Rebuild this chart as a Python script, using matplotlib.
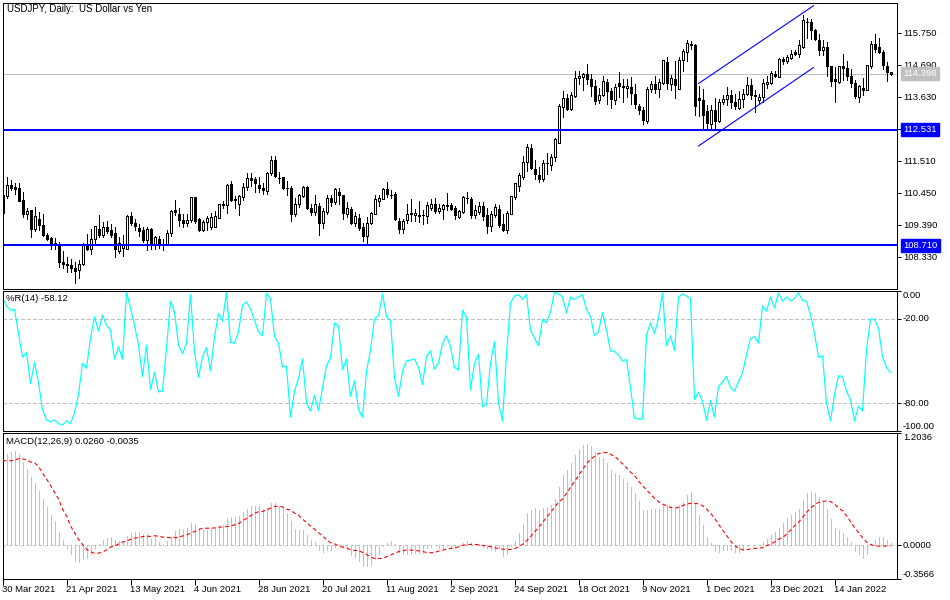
import matplotlib
matplotlib.use("Agg")
import matplotlib.pyplot as plt
from matplotlib.transforms import blended_transform_factory
import numpy as np

opens = [110.37,110.35,110.72,110.63,110.60,110.20,109.75,109.87,109.25,109.59,
109.38,109.06,108.94,108.80,108.71,108.15,108.10,108.07,107.97,107.89,
108.08,108.71,108.59,108.92,109.26,109.04,109.33,109.20,109.10,108.52,
108.62,108.58,109.67,109.46,109.27,109.20,108.89,109.25,108.72,108.91,
108.71,108.73,109.13,109.87,109.76,109.56,109.44,109.55,110.30,109.58,
109.22,109.48,109.31,109.32,109.63,110.05,110.05,110.73,110.23,110.09,
110.31,110.64,110.95,110.89,110.72,110.62,110.51,111.12,111.53,110.95,
110.96,110.62,110.62,109.75,110.09,110.35,110.63,109.94,109.81,110.02,
109.45,109.81,110.29,110.15,110.47,110.37,109.75,109.92,109.45,109.63,
109.32,109.02,109.45,109.75,110.18,110.25,110.57,110.38,110.41,109.53,
109.24,109.54,109.76,109.72,109.70,109.71,109.68,109.94,110.09,109.85,
109.92,110.04,110.04,109.94,109.65,109.82,110.27,110.24,109.71,109.81,
110.00,109.72,109.35,109.71,109.91,109.41,109.21,109.75,110.31,110.67,
110.97,111.48,111.95,111.25,111.05,110.89,111.42,111.37,111.62,112.11,
113.29,113.58,113.22,113.65,114.25,114.30,114.38,114.23,114.00,113.54,
113.68,114.12,113.83,113.54,114.10,114.00,113.93,113.97,113.73,113.34,
113.20,112.83,113.90,114.07,113.89,114.09,114.80,114.07,114.23,113.90,
114.84,115.13,115.36,115.34,113.60,113.51,113.15,112.74,113.18,112.83,
113.46,113.57,113.68,113.45,113.27,113.56,113.71,114.03,113.68,113.54,
113.62,114.06,114.09,114.40,114.30,114.88,114.81,114.93,115.11,115.05,
115.28,116.12,116.11,115.83,115.52,115.17,115.27,114.64,114.22,114.12,
114.65,114.60,114.33,114.08,113.62,113.93,113.87,114.64,115.37,115.28,
115.12,114.66,114.44]
highs = [110.37,110.98,110.86,110.78,110.78,110.48,109.96,109.89,109.97,109.82,
109.76,109.10,108.99,108.94,108.83,108.52,108.31,108.24,108.15,108.21,
108.77,109.08,109.24,109.35,109.70,109.48,109.52,109.43,109.30,108.99,
109.05,109.70,109.80,109.59,109.41,109.30,109.32,109.29,109.01,109.01,
108.93,109.21,109.89,110.20,109.95,109.74,109.74,110.32,110.32,109.63,
109.56,109.67,109.77,109.84,110.09,110.18,110.73,110.84,110.34,110.37,
110.79,111.12,111.12,110.98,110.97,110.78,111.13,111.66,111.66,111.14,
110.97,110.84,110.69,110.28,110.42,110.67,110.67,110.09,110.37,110.11,
109.93,110.38,110.37,110.60,110.60,110.39,110.15,109.97,109.82,109.76,
109.45,109.65,109.82,110.37,110.37,110.60,110.80,110.53,110.46,109.60,
109.59,110.07,110.23,109.91,110.17,109.89,110.14,110.23,110.26,110.09,
110.09,110.43,110.11,110.00,109.89,110.35,110.48,110.30,110.05,110.15,
110.15,109.94,109.85,110.09,110.05,109.73,109.85,110.35,110.78,111.11,
111.66,112.05,112.07,111.53,111.29,111.53,111.77,111.75,112.27,113.40,
113.81,113.74,113.79,114.48,114.48,114.42,114.71,114.40,114.18,113.93,
114.31,114.23,113.92,114.07,114.44,114.23,114.21,114.28,114.07,113.40,
113.29,113.96,114.15,114.31,114.23,114.86,114.95,114.34,114.81,114.95,
115.21,115.52,115.48,115.39,113.98,113.90,113.35,113.35,113.59,113.57,
113.68,113.97,113.85,113.74,113.82,113.90,114.29,114.23,113.87,113.74,
114.23,114.31,114.49,114.49,114.93,114.95,115.00,115.19,115.19,115.50,
116.33,116.25,116.22,115.89,115.72,115.50,115.45,114.64,114.62,114.66,
115.06,114.81,114.55,114.18,114.01,114.26,114.70,115.48,115.70,115.59,
115.19,114.78,114.45]
lows = [109.78,110.28,110.55,110.41,110.17,109.64,109.59,108.99,109.19,109.23,
109.01,108.88,108.58,108.58,108.00,107.96,107.84,107.81,107.45,107.62,
108.05,108.55,108.42,108.77,108.99,109.00,109.12,108.99,108.32,108.45,
108.36,108.57,109.38,109.21,109.03,108.82,108.56,108.60,108.58,108.63,
108.55,108.71,109.02,109.70,109.35,109.32,109.35,109.48,109.46,109.19,
109.19,109.21,109.26,109.30,109.61,109.96,109.78,110.18,109.96,109.72,
110.20,110.55,110.67,110.48,110.48,110.41,110.40,111.03,110.97,110.78,
110.59,110.39,109.52,109.67,109.98,110.32,109.91,109.71,109.71,109.04,
109.29,109.76,110.02,110.09,110.07,109.59,109.65,109.40,109.35,109.22,
108.85,108.75,109.43,109.73,110.02,110.23,110.31,110.29,109.56,109.11,
109.11,109.46,109.52,109.50,109.49,109.42,109.45,109.88,109.77,109.77,
109.59,109.87,109.89,109.57,109.63,109.78,110.11,109.62,109.62,109.75,
109.54,109.11,109.19,109.66,109.31,109.18,109.11,109.74,110.24,110.51,
110.92,111.16,111.23,110.91,110.81,110.84,111.06,111.22,111.51,112.10,
112.96,113.19,113.19,113.63,114.05,113.85,114.05,113.65,113.38,113.44,
113.66,113.40,113.26,113.39,113.64,113.46,113.62,113.40,113.26,113.05,
112.72,112.76,113.79,113.76,113.62,114.07,113.90,113.87,113.59,113.89,
114.49,114.82,115.22,113.02,112.99,112.58,112.61,112.58,112.58,112.81,
113.38,113.35,113.27,113.24,113.24,113.29,113.69,113.57,113.13,113.38,
113.46,113.93,114.06,114.28,114.28,114.73,114.76,114.87,115.00,114.94,
115.25,115.59,115.56,115.52,115.03,115.00,114.33,113.99,113.46,114.10,
114.18,114.18,113.96,113.60,113.46,113.68,113.84,114.58,115.12,115.08,
114.56,114.15,114.34]
closes = [109.78,110.72,110.60,110.58,110.19,109.75,109.83,109.25,109.67,109.38,
109.05,108.92,108.73,108.71,108.15,108.09,108.06,107.96,107.85,108.10,
108.76,108.58,108.93,109.34,109.05,109.33,109.17,109.06,108.59,108.80,
108.71,109.69,109.44,109.34,109.17,108.88,109.24,108.72,108.97,108.74,
108.74,109.13,109.83,109.82,109.55,109.44,109.56,110.30,109.52,109.21,
109.49,109.63,109.64,109.69,110.09,110.08,110.72,110.20,110.22,110.33,
110.65,110.95,110.86,110.78,110.61,110.53,111.12,111.52,111.01,110.94,
110.61,110.61,109.76,110.09,110.36,110.63,109.94,109.81,110.09,109.45,
109.86,110.29,110.15,110.57,110.38,109.77,109.94,109.44,109.67,109.28,
109.02,109.46,109.77,110.23,110.26,110.57,110.40,110.37,109.57,109.24,
109.53,109.76,109.77,109.79,109.68,109.70,110.03,110.09,109.83,109.94,
110.03,110.00,109.92,109.71,109.86,110.30,110.28,109.72,109.89,110.00,
109.68,109.35,109.73,109.97,109.37,109.21,109.79,110.34,110.77,111.03,
111.48,111.98,111.26,111.06,110.91,111.45,111.44,111.63,112.22,113.31,
113.60,113.24,113.68,114.27,114.33,114.38,114.23,113.99,113.49,113.70,
114.14,113.83,113.56,113.97,113.98,113.96,114.00,113.76,113.38,113.20,
112.86,113.90,114.06,113.90,114.13,114.84,114.09,114.26,114.03,114.86,
115.14,115.40,115.39,113.33,113.54,113.02,112.77,113.20,112.83,113.47,
113.57,113.70,113.46,113.34,113.57,113.73,114.03,113.69,113.67,113.63,
114.09,114.11,114.41,114.32,114.89,114.81,114.95,115.06,115.06,115.34,
116.16,116.11,115.85,115.56,115.17,115.29,114.64,114.15,114.15,114.64,
114.58,114.33,114.09,113.67,113.98,113.86,114.67,115.37,115.20,115.12,
114.69,114.45,114.398]

wpr = [-5.2,-10.8,-13.9,-13.4,-30.4,-47.3,-44.0,-66.1,-51.1,-65.6,
-84.5,-92.0,-93.2,-91.8,-94.6,-95.5,-92.7,-94.6,-86.8,-73.9,
-51.5,-55.1,-33.9,-18.6,-28.7,-17.4,-24.5,-28.0,-48.7,-39.8,
-48.7,-0.9,-12.7,-24.5,-38.6,-61.0,-38.6,-70.4,-57.9,-72.0,
-71.5,-41.0,-7.3,-15.1,-38.6,-44.7,-37.4,-2.8,-43.3,-61.7,
-46.8,-40.5,-57.0,-32.7,-16.2,-21.6,-0.9,-36.7,-37.4,-29.2,
-10.4,-8.0,-13.2,-21.0,-29.2,-32.0,-1.9,-5.6,-32.7,-37.4,
-53.9,-53.9,-89.9,-71.5,-62.1,-48.5,-79.8,-85.6,-74.4,-85.2,
-69.2,-53.2,-48.0,-22.8,-25.0,-56.2,-48.5,-75.1,-64.0,-84.5,
-89.9,-57.4,-42.1,-19.8,-17.9,-2.1,-18.6,-21.0,-62.1,-75.1,
-57.4,-49.7,-49.4,-48.5,-54.4,-66.8,-46.8,-42.8,-55.8,-51.5,
-37.4,-32.0,-39.8,-54.6,-56.5,-13.9,-18.6,-70.4,-51.5,-45.2,
-82.6,-81.0,-51.5,-36.2,-79.8,-92.7,-45.2,-8.5,-3.8,-2.8,
-6.1,-2.8,-28.0,-33.9,-39.1,-20.5,-22.8,-15.1,-0.9,-2.4,
-4.5,-15.8,-4.5,-6.1,-4.5,-2.8,-13.2,-18.6,-32.0,-29.2,
-15.5,-28.0,-42.8,-43.3,-45.6,-49.9,-49.0,-69.2,
-90.4,-91.3,-91.3,-31.5,-22.8,-30.4,-19.8,-1.4,-39.1,-32.0,
-42.6,-4.5,-2.4,-3.8,-5.6,-77.4,-72.2,-78.6,-92.2,-78.1,
-89.9,-68.0,-65.0,-61.0,-68.7,-71.5,-64.5,-58.6,-45.6,-33.9,
-32.7,-37.4,-10.8,-14.6,-4.5,-12.2,-1.6,-7.5,-4.5,-7.3,
-5.6,-1.6,-6.8,-7.5,-17.0,-30.4,-47.3,-46.4,-79.8,-92.7,
-73.9,-60.5,-61.0,-71.5,-77.4,-92.7,-82.1,-85.6,-42.1,-20.2,
-20.2,-26.8,-46.8,-54.6,-58.12]

macd = [0.911,0.976,1.001,1.008,0.976,0.889,0.821,0.731,0.670,0.587,
0.497,0.414,0.328,0.256,0.144,0.058,-0.025,-0.090,-0.162,-0.176,
-0.151,-0.133,-0.090,-0.025,0.011,0.054,0.076,0.086,0.054,0.043,
0.040,0.101,0.137,0.144,0.144,0.122,0.119,0.072,0.090,0.032,
0.018,0.043,0.090,0.155,0.176,0.176,0.184,0.238,0.227,0.191,
0.162,0.169,0.176,0.191,0.220,0.220,0.295,0.302,0.306,0.317,
0.353,0.392,0.418,0.425,0.421,0.392,0.400,0.454,0.454,0.425,
0.396,0.349,0.256,0.180,0.166,0.169,0.112,0.054,0.036,-0.047,
-0.068,-0.047,-0.050,-0.018,0.018,-0.022,-0.032,-0.104,-0.126,-0.169,
-0.223,-0.223,-0.205,-0.144,-0.104,-0.007,0.022,0.047,0.011,-0.076,
-0.090,-0.090,-0.090,-0.083,-0.083,-0.083,-0.025,-0.018,0.007,-0.032,
-0.025,-0.007,-0.029,-0.025,-0.011,0.029,0.047,0.025,0.018,0.018,
-0.014,-0.032,-0.054,-0.061,-0.032,-0.115,-0.090,-0.007,0.047,0.133,
0.230,0.349,0.382,0.396,0.382,0.400,0.414,0.428,0.500,0.630,
0.749,0.803,0.882,0.968,1.030,1.073,1.084,1.062,0.997,0.947,
0.932,0.882,0.810,0.778,0.756,0.713,0.684,0.630,
0.558,0.479,0.382,0.382,0.392,0.385,0.389,0.443,0.428,0.421,
0.400,0.436,0.468,0.544,0.576,0.457,0.328,0.220,0.090,0.025,
-0.061,-0.068,-0.054,-0.047,-0.054,-0.068,-0.068,-0.054,-0.004,0.000,
0.000,0.004,0.036,0.065,0.112,0.148,0.191,0.245,0.292,0.328,
0.360,0.389,0.490,0.558,0.576,0.558,0.515,0.472,0.392,0.284,
0.191,0.162,0.133,0.090,0.040,-0.061,-0.090,-0.133,-0.090,0.011,
0.058,0.090,0.090,0.058,0.026]

signal = [0.907,0.907,0.907,0.911,0.929,0.925,0.918,0.893,0.886,0.846,
0.774,0.713,0.641,0.569,0.497,0.389,0.317,0.209,0.137,0.065,
0.011,-0.043,-0.068,-0.086,-0.083,-0.072,-0.047,-0.018,-0.007,0.014,
0.036,0.047,0.065,0.079,0.083,0.094,0.097,0.097,0.104,0.097,
0.090,0.086,0.083,0.083,0.086,0.101,0.112,0.130,0.148,0.169,
0.184,0.184,0.184,0.187,0.194,0.198,0.202,0.209,0.220,0.234,
0.263,0.288,0.317,0.346,0.360,0.364,0.378,0.400,0.418,0.418,
0.414,0.389,0.378,0.346,0.324,0.281,0.245,0.209,0.173,0.137,
0.101,0.058,0.029,0.018,-0.007,-0.018,-0.032,-0.043,-0.054,-0.054,
-0.076,-0.097,-0.126,-0.140,-0.140,-0.140,-0.122,-0.104,-0.083,-0.068,
-0.058,-0.050,-0.050,-0.054,-0.058,-0.065,-0.076,-0.079,-0.076,-0.061,
-0.050,-0.043,-0.032,-0.029,-0.014,0.000,0.007,0.011,0.011,0.007,
0.000,-0.007,-0.014,-0.025,-0.032,-0.040,-0.043,-0.043,-0.036,-0.014,
0.011,0.047,0.094,0.144,0.191,0.245,0.299,0.353,0.407,0.461,
0.497,0.558,0.623,0.684,0.749,0.810,0.875,0.918,0.954,0.983,
0.994,0.994,0.976,0.954,0.918,0.875,0.832,0.785,
0.749,0.688,0.641,0.594,0.551,0.504,0.468,0.443,0.425,0.407,
0.400,0.407,0.425,0.443,0.450,0.450,0.446,0.425,0.389,0.346,
0.292,0.227,0.166,0.108,0.047,0.000,-0.032,-0.047,-0.050,-0.036,
-0.032,-0.029,-0.025,-0.004,0.011,0.036,0.065,0.083,0.119,0.162,
0.209,0.245,0.299,0.353,0.396,0.436,0.461,0.472,0.475,0.468,
0.443,0.400,0.371,0.317,0.256,0.191,0.137,0.083,0.036,0.011,
-0.007,-0.007,-0.007,-0.007,-0.0035]

date_labels = ["30 Mar 2021","21 Apr 2021","13 May 2021","4 Jun 2021","28 Jun 2021",
"20 Jul 2021","11 Aug 2021","2 Sep 2021","24 Sep 2021","18 Oct 2021",
"9 Nov 2021","1 Dec 2021","23 Dec 2021","14 Jan 2022"]
date_bars = [0,16,32,48,64,80,96,112,128,144,160,176,192,208]

price_ticks = [115.75,114.69,113.63,112.57,111.51,110.45,109.39,108.33]
price_tick_labels = ["115.750","114.690","113.630","","111.510","110.450","109.390","108.330"]
support_levels = [112.531,108.710]
bid = 114.398
channel_upper_bars, channel_upper_prices = [174,202.75],[114.07,116.65]
channel_lower_bars, channel_lower_prices = [174,202.75],[112.0,114.6]

lens = {k:len(v) for k,v in dict(o=opens,h=highs,l=lows,c=closes,w=wpr,m=macd,s=signal).items()}
assert len(set(lens.values()))==1, lens

plt.rcParams['font.family'] = ['Liberation Sans','DejaVu Sans']
FS = 6.8
PX = 0.72
THIN = 0.55
W, H = 950, 600
fig = plt.figure(figsize=(9.5,6), dpi=100, facecolor='white')

def mk(top, bottom, left=2.5, right=897.3):
    ax = fig.add_axes([left/W, 1-bottom/H, (right-left)/W, (bottom-top)/H])
    ax.set_xlim(0, (right-left)/4)
    ax.yaxis.tick_right()
    ax.tick_params(axis='y', length=2.9, width=PX, labelsize=FS, pad=1.2, colors='black')
    ax.set_xticks([])
    for s in ax.spines.values():
        s.set_linewidth(PX)
    return ax

a1 = mk(2.7, 289)
a1.set_ylim(107.26, 116.75)
x = np.arange(len(opens))
o, h, l, c = map(np.array, (opens, highs, lows, closes))
a1.axhline(bid, color='#C0C0C0', lw=THIN, zorder=1, antialiased=False)
a1.vlines(x, l, h, color='black', lw=THIN, zorder=2, antialiased=False)
top, bot = np.maximum(o,c), np.minimum(o,c)
up = c >= o
a1.bar(x[up], (top-bot)[up], bottom=bot[up], width=0.5, facecolor='white', edgecolor='black', linewidth=THIN, zorder=3, antialiased=False)
a1.bar(x[~up], (top-bot)[~up], bottom=bot[~up], width=0.5, facecolor='black', edgecolor='black', linewidth=THIN, zorder=3, antialiased=False)
for lv in support_levels:
    a1.axhline(lv, color='#0000FF', lw=1.3, zorder=4, antialiased=False)
a1.plot(channel_upper_bars, channel_upper_prices, color='#0000FF', lw=0.8, zorder=4)
a1.plot(channel_lower_bars, channel_lower_prices, color='#0000FF', lw=0.8, zorder=4)
a1.set_yticks(price_ticks)
a1.set_yticklabels(price_tick_labels)
tr = blended_transform_factory(a1.transAxes, a1.transData)
lx = 1 + 6/(897.3-2.5)
a1.text(lx, bid, f"{bid:.3f}", transform=tr, color='white', fontsize=FS, va='center', ha='left',
        bbox=dict(facecolor='#C0C0C0', edgecolor='#C0C0C0', pad=1.4), clip_on=False)
for lv in support_levels:
    a1.text(lx, lv, f"{lv:.3f}", transform=tr, color='white', fontsize=FS, va='center', ha='left',
            bbox=dict(facecolor='#0000FF', edgecolor='#0000FF', pad=1.4), clip_on=False)
a1.text(4.5/894.8, 1-1.5/286, "USDJPY, Daily:  US Dollar vs Yen", transform=a1.transAxes, fontsize=7.0, va='top', ha='left')

a2 = mk(290.7, 431.3)
a2.set_ylim(-100, 0)
a2.axhline(-20, color='#C0C0C0', lw=THIN, ls=(0,(5,3.5)), zorder=1, antialiased=False)
a2.axhline(-80, color='#C0C0C0', lw=THIN, ls=(0,(5,3.5)), zorder=1, antialiased=False)
a2.plot(x, wpr, color='#00FFFF', lw=0.85, zorder=2)
a2.set_yticks([0,-20,-80,-100])
a2.set_yticklabels(["0.00","-20.00","-80.00","-100.00"])
for t, va in zip(a2.get_yticklabels(), ['top','center','center','bottom']):
    t.set_va(va)
a2.text(3.5/894.8, 1-3.5/140.6, "%R(14) -58.12", transform=a2.transAxes, fontsize=FS, va='top', ha='left')

a3 = mk(433, 578.7)
a3.set_ylim(-0.3566, 1.2036)
a3.axhline(0, color='#C0C0C0', lw=THIN, ls=(0,(3,4)), zorder=1, antialiased=False)
a3.vlines(x, 0, macd, color='#C0C0C0', lw=PX, zorder=2, antialiased=False)
a3.plot(x, signal, color='#FF0000', lw=0.8, ls=(0,(3.5,2.5)), zorder=3)
a3.set_yticks([1.2036,0,-0.3566])
a3.set_yticklabels(["1.2036","0.0000","-0.3566"])
for t, va in zip(a3.get_yticklabels(), ['top','center','bottom']):
    t.set_va(va)
a3.set_xticks(date_bars)
a3.set_xticklabels(date_labels)
a3.tick_params(axis='x', length=4.3, width=PX, labelsize=FS, pad=0.5)
for t in a3.get_xticklabels():
    t.set_ha('left')
a3.text(3.5/894.8, 1-4.5/145.7, "MACD(12,26,9) 0.0260 -0.0035", transform=a3.transAxes, fontsize=FS, va='top', ha='left')

fig.savefig("out.png", dpi=100, facecolor='white')
